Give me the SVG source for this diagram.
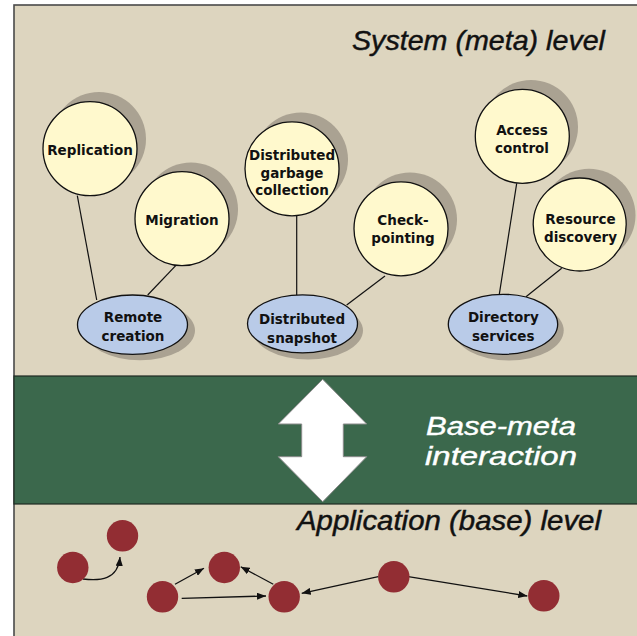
<svg xmlns="http://www.w3.org/2000/svg" width="637" height="636" viewBox="0 0 637 636">
<style>
.frame{fill:#ddd5bf;stroke:#4a4a4a;stroke-width:1.6}
.band{fill:#3b684c;stroke:#1e2a22;stroke-width:1.2}
.shadow{fill:#aaa292}
.yc{fill:#fff9cd;stroke:#111;stroke-width:1.3}
.be{fill:#b9cbe8;stroke:#111;stroke-width:1.3}
.lbl{font-family:"DejaVu Sans","Liberation Sans",sans-serif;font-weight:bold;font-size:13.5px;fill:#111;text-anchor:middle}
.title{font-family:"Liberation Sans",Arial,sans-serif;font-style:italic;fill:#111;stroke:#111;stroke-width:0.45}
.wt{font-family:"Liberation Sans",Arial,sans-serif;font-style:italic;fill:#fff;font-size:26px;stroke:#fff;stroke-width:0.4}
.link{stroke:#111;stroke-width:1.2;fill:none}
.arr{stroke:#111;stroke-width:1.3;fill:none;marker-end:url(#ah)}
.red{fill:#922d33}
</style>
<defs>
<marker id="ah" viewBox="0 0 10 8" refX="10" refY="4" markerWidth="9" markerHeight="7.2" markerUnits="userSpaceOnUse" orient="auto">
<path d="M0,0 L10,4 L0,8 z" fill="#111"/>
</marker>
</defs>
<rect width="637" height="636" fill="#fff"/>
<rect class="frame" x="14" y="5" width="640" height="650"/>
<rect class="band" x="14" y="376" width="640" height="128"/>

<g id="title-system"><text class="title" x="352" y="50" font-size="28" textLength="253" lengthAdjust="spacingAndGlyphs">System (meta) level</text></g>

<g id="connectors">
<line class="link" x1="77.3" y1="195.7" x2="96.7" y2="300"/>
<line class="link" x1="175.7" y1="265.7" x2="147.7" y2="295"/>
<line class="link" x1="296.7" y1="216" x2="296.7" y2="295"/>
<line class="link" x1="385" y1="276" x2="346.7" y2="305"/>
<line class="link" x1="516.7" y1="183.3" x2="499.3" y2="294.3"/>
<line class="link" x1="561.7" y1="268.3" x2="526" y2="296.7"/>
<path class="arr" d="M83,579 C100,581 118,580 120,557"/>
<line class="arr" x1="175" y1="584.3" x2="204" y2="568.3"/>
<line class="arr" x1="181.7" y1="598.3" x2="266" y2="596"/>
<line class="arr" x1="273.3" y1="584.3" x2="240.7" y2="566.7"/>
<line class="arr" x1="378.3" y1="576.7" x2="301.7" y2="593.3"/>
<line class="arr" x1="408.3" y1="576.7" x2="527.3" y2="596"/>
</g>

<g id="replication"><circle class="shadow" cx="99" cy="139" r="47"/><circle class="yc" cx="90" cy="148.7" r="47"/><text class="lbl" x="90" y="155">Replication</text></g>
<g id="migration"><circle class="shadow" cx="191" cy="209.5" r="47"/><circle class="yc" cx="182" cy="218.7" r="47"/><text class="lbl" x="182" y="225">Migration</text></g>
<g id="remote-creation"><ellipse class="shadow" cx="140" cy="330.5" rx="55" ry="29.7"/><ellipse class="be" cx="132.5" cy="324.7" rx="55" ry="29.7"/><text class="lbl" x="133" y="322">Remote</text><text class="lbl" x="133" y="340.5">creation</text></g>

<g id="garbage-collection"><circle class="shadow" cx="301" cy="159.5" r="47"/><circle class="yc" cx="292" cy="168.8" r="47"/><text class="lbl" x="292" y="160">Distributed</text><text class="lbl" x="292" y="177.5">garbage</text><text class="lbl" x="292" y="195">collection</text></g>
<g id="checkpointing"><circle class="shadow" cx="410" cy="219.5" r="47"/><circle class="yc" cx="401" cy="228.8" r="47"/><text class="lbl" x="403" y="225">Check-</text><text class="lbl" x="403" y="243">pointing</text></g>
<g id="distributed-snapshot"><ellipse class="shadow" cx="308" cy="330.5" rx="55" ry="29"/><ellipse class="be" cx="302.5" cy="323.8" rx="55" ry="29"/><text class="lbl" x="302" y="324">Distributed</text><text class="lbl" x="302" y="342.5">snapshot</text></g>

<g id="access-control"><circle class="shadow" cx="531" cy="127" r="47"/><circle class="yc" cx="522.3" cy="136.3" r="47"/><text class="lbl" x="522" y="135">Access</text><text class="lbl" x="522" y="152.5">control</text></g>
<g id="resource-discovery"><circle class="shadow" cx="589" cy="215.2" r="46.5"/><circle class="yc" cx="579.7" cy="224.5" r="46.5"/><text class="lbl" x="580.5" y="224">Resource</text><text class="lbl" x="580.5" y="241.5">discovery</text></g>
<g id="directory-services"><ellipse class="shadow" cx="509" cy="330.5" rx="54.7" ry="30"/><ellipse class="be" cx="503" cy="324.3" rx="54.7" ry="30"/><text class="lbl" x="503.3" y="322">Directory</text><text class="lbl" x="503.3" y="340.5">services</text></g>

<g id="base-meta-arrow"><polygon points="322.7,379.3 366.7,424 343.3,424 343.3,456.7 366.7,456.7 322.7,501.7 278.3,456.7 301.7,456.7 301.7,424 278.3,424" fill="#fff" stroke="#8a8a8a" stroke-width="1"/></g>
<g id="base-meta-label"><text class="wt" x="426" y="435" textLength="150" lengthAdjust="spacingAndGlyphs">Base-meta</text><text class="wt" x="425" y="465" textLength="152" lengthAdjust="spacingAndGlyphs">interaction</text></g>

<g id="title-application"><text class="title" x="297" y="530" font-size="27" textLength="304" lengthAdjust="spacingAndGlyphs">Application (base) level</text></g>

<g id="objects">
<circle class="red" cx="72.8" cy="567.5" r="15.7"/>
<circle class="red" cx="122.5" cy="535.8" r="15.7"/>
<circle class="red" cx="162.5" cy="596.8" r="15.7"/>
<circle class="red" cx="224.3" cy="567.5" r="15.7"/>
<circle class="red" cx="284.2" cy="596.8" r="15.7"/>
<circle class="red" cx="393.8" cy="576.8" r="15.7"/>
<circle class="red" cx="543.8" cy="595.8" r="15.7"/>
</g>
</svg>
